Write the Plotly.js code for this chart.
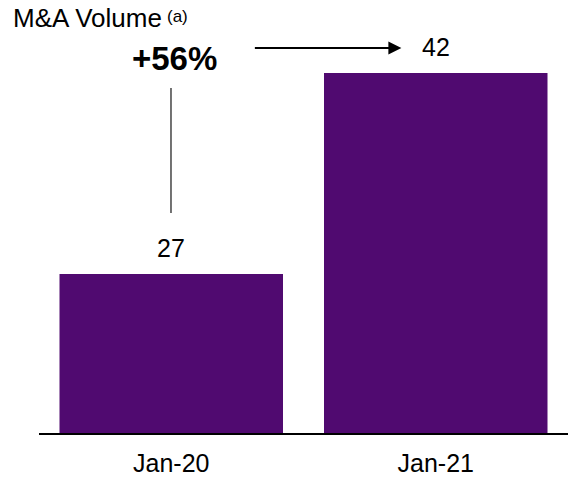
<!DOCTYPE html>
<html>
<head>
<meta charset="utf-8">
<script src="https://cdn.plot.ly/plotly-3.0.1.min.js"></script>
<style>html,body{margin:0;padding:0;background:#fff;}#chart{width:568px;height:484px;}</style>
</head>
<body>
<div id="chart"></div>
<script>
const categories = ['Jan-20', 'Jan-21'];
const volumes = [27, 42];
const valueLabels = ['27', '42'];
const chartTitle = 'M&A Volume';
const titleNote = '(a)';
const growthLabel = '+56%';

const FONT = '"Liberation Sans", Arial, Helvetica, sans-serif';
const BAR = '#500A70';

const trace = {
  type: 'bar',
  x: categories,
  y: volumes,
  marker: {color: BAR, line: {width: 0}},
  hoverinfo: 'skip'
};

const annotations = categories.map((c, i) => ({
  x: c, y: volumes[i], xref: 'x', yref: 'y',
  text: valueLabels[i], showarrow: false,
  yanchor: 'middle', yshift: 26,
  font: {family: FONT, size: 25, color: '#000'}
}));

annotations.push({
  xref: 'paper', yref: 'paper', x: -0.053, y: 0.959,
  xanchor: 'left', yanchor: 'middle',
  text: chartTitle, showarrow: false,
  font: {family: FONT, size: 26, color: '#000'}
});
annotations.push({
  xref: 'paper', yref: 'paper', x: 0.239, y: 0.961,
  xanchor: 'left', yanchor: 'middle',
  text: titleNote, showarrow: false,
  font: {family: FONT, size: 17, color: '#000'}
});
annotations.push({
  xref: 'paper', yref: 'paper', x: 0.257, y: 0.866,
  xanchor: 'center', yanchor: 'middle',
  text: '<b>' + growthLabel + '</b>', showarrow: false,
  font: {family: FONT, size: 33, color: '#000'}
});
annotations.push({
  xref: 'paper', yref: 'paper', x: 0.685, y: 0.889,
  text: '', showarrow: true, axref: 'pixel', ayref: 'pixel',
  ax: -148, ay: 0, arrowhead: 2, arrowsize: 1.3, arrowwidth: 2, arrowcolor: '#000',
  standoff: 0, startstandoff: 0
});

const layout = {
  width: 568, height: 484,
  margin: {l: 39, r: 0, t: 0, b: 51},
  paper_bgcolor: '#fff', plot_bgcolor: '#fff',
  showlegend: false,
  bargap: 0.155,
  xaxis: {
    type: 'category', showline: true, linecolor: '#000', linewidth: 2,
    showgrid: false, zeroline: false, ticks: '', ticklabelstandoff: 7,
    tickfont: {family: FONT, size: 25, color: '#000'}
  },
  yaxis: {
    range: [15.13, 47.45], visible: false, showgrid: false, zeroline: false
  },
  annotations: annotations,
  shapes: [{
    type: 'line', xref: 'paper', yref: 'paper',
    x0: 0.2495, x1: 0.2495, y0: 0.508, y1: 0.797,
    line: {color: '#444', width: 1.5}
  }]
};

Plotly.newPlot('chart', [trace], layout, {displayModeBar: false, staticPlot: true});
</script>
</body>
</html>
